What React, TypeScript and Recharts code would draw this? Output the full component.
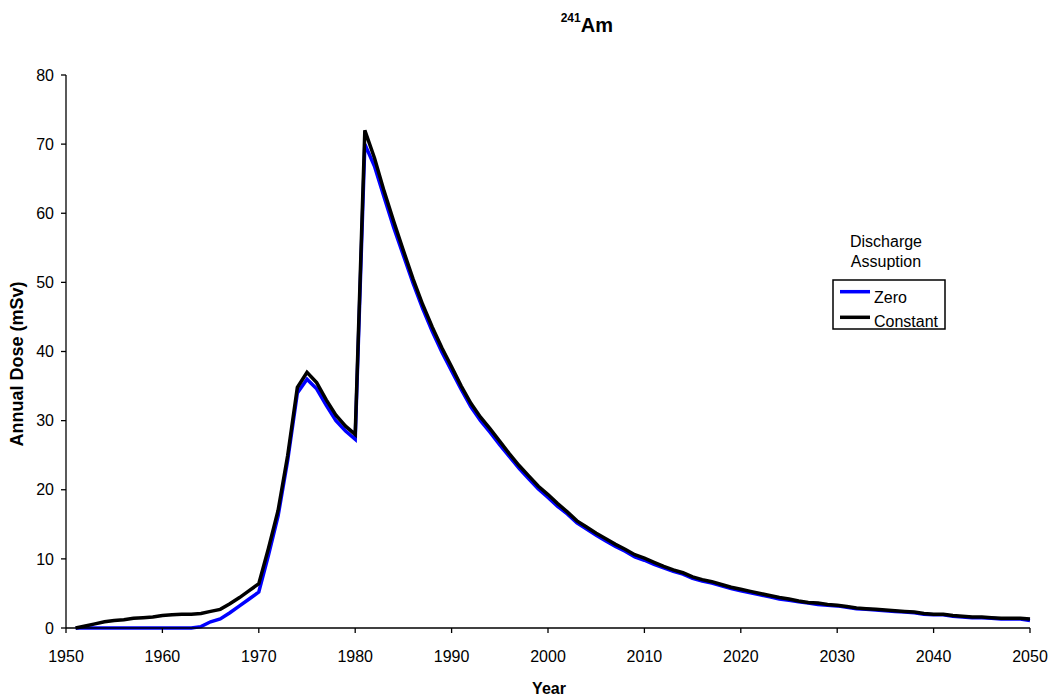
import { LineChart, Line, XAxis, YAxis, Legend, Customized } from 'recharts';

// Annual dose from 241Am, one value per year starting in 1951
const FIRST_YEAR = 1951;

// "Zero" discharge assumption
const zeroDose = [
  0, 0, 0, 0, 0, 0, 0, 0, 0, 0,
  0, 0, 0, 0.2, 0.9, 1.3, 2.2, 3.2, 4.2, 5.2,
  10.5, 16.2, 24.3, 34.0, 36.0, 34.6, 32.2, 30.0, 28.5, 27.3,
  70.0, 66.8, 62.3, 57.9, 53.9, 49.9, 46.2, 42.9, 39.9, 37.2,
  34.5, 32.0, 30.0, 28.3, 26.5, 24.8, 23.1, 21.6, 20.1, 18.9,
  17.6, 16.5, 15.2, 14.3, 13.4, 12.6, 11.8, 11.1, 10.3, 9.8,
  9.2, 8.7, 8.2, 7.8, 7.2, 6.8, 6.5, 6.1, 5.7, 5.4,
  5.1, 4.8, 4.5, 4.2, 4.0, 3.8, 3.6, 3.4, 3.3, 3.2,
  3.0, 2.8, 2.7, 2.6, 2.5, 2.4, 2.3, 2.2, 2.0, 1.9,
  1.9, 1.7, 1.6, 1.5, 1.5, 1.4, 1.3, 1.3, 1.3, 1.1,
];

// "Constant" discharge assumption
const constantDose = [
  0, 0.3, 0.6, 0.9, 1.1, 1.2, 1.4, 1.5, 1.6, 1.8,
  1.9, 2.0, 2.0, 2.1, 2.4, 2.7, 3.5, 4.4, 5.4, 6.4,
  11.5, 17.0, 25.0, 34.8, 37.0, 35.5, 33.0, 30.8, 29.2, 28.0,
  72.0, 68.0, 63.2, 58.8, 54.6, 50.5, 46.8, 43.5, 40.5, 37.8,
  35.0, 32.5, 30.5, 28.8, 27.0, 25.2, 23.5, 22.0, 20.5, 19.3,
  18.0, 16.8, 15.5, 14.6, 13.7, 12.9, 12.1, 11.4, 10.6, 10.1,
  9.5, 8.9, 8.4, 8.0, 7.4, 7.0, 6.7, 6.3, 5.9, 5.6,
  5.3, 5.0, 4.7, 4.4, 4.2, 3.9, 3.7, 3.6, 3.4, 3.3,
  3.1, 2.9, 2.8, 2.7, 2.6, 2.5, 2.4, 2.3, 2.1, 2.0,
  2.0, 1.8, 1.7, 1.6, 1.6, 1.5, 1.4, 1.4, 1.4, 1.3,
];

const xTicks = [1950, 1960, 1970, 1980, 1990, 2000, 2010, 2020, 2030, 2040, 2050];
const yTicks = [0, 10, 20, 30, 40, 50, 60, 70, 80];
const legendOrder = ['Zero', 'Constant'];

const FONT = '"Liberation Sans", Arial, sans-serif';

const data = zeroDose.map((zero, i) => ({
  year: FIRST_YEAR + i,
  zero,
  constant: constantDose[i],
}));

function Titles() {
  return (
    <g fontFamily={FONT} fill="#000">
      <text x={560.7} y={31.7} fontWeight="bold">
        <tspan fontSize={12} dy={-10}>241</tspan>
        <tspan fontSize={20} dy={10}>Am</tspan>
      </text>
      <text x={549} y={694} fontSize={16} fontWeight="bold" textAnchor="middle">
        Year
      </text>
      <text
        x={0}
        y={0}
        fontSize={18}
        fontWeight="bold"
        textAnchor="middle"
        transform="translate(23,364) rotate(-90)"
      >
        Annual Dose (mSv)
      </text>
    </g>
  );
}

function DischargeLegend({ payload }: any) {
  const items = [...(payload || [])].sort(
    (a: any, b: any) => legendOrder.indexOf(a.value) - legendOrder.indexOf(b.value)
  );
  return (
    <svg width={170} height={112} style={{ fontFamily: FONT, overflow: 'visible' }}>
      <text x={78} y={17} fontSize={16} textAnchor="middle">Discharge</text>
      <text x={78} y={37} fontSize={16} textAnchor="middle">Assuption</text>
      <rect x={25} y={50} width={112} height={49} fill="none" stroke="#000" strokeWidth={1.5} />
      {items.map((item: any, i: number) => (
        <g key={item.value}>
          <line
            x1={32}
            x2={62}
            y1={61.7 + i * 25.6}
            y2={61.7 + i * 25.6}
            stroke={item.color}
            strokeWidth={3.5}
          />
          <text x={66} y={73.3 + i * 23.4} fontSize={16}>{item.value}</text>
        </g>
      ))}
    </svg>
  );
}

export default function App() {
  return (
    <div style={{ position: 'absolute', left: 0, top: 0 }}>
      <LineChart
        width={1052}
        height={697}
        data={data}
        margin={{ top: 75, right: 22, left: 0, bottom: 29 }}
      >
        <XAxis
          dataKey="year"
          type="number"
          domain={[1950, 2050]}
          ticks={xTicks}
          interval={0}
          height={40}
          tickSize={5}
          tickMargin={18}
          stroke="#000"
          strokeWidth={1.3}
          tick={{ fill: '#000', fontSize: 16, fontFamily: FONT }}
        />
        <YAxis
          type="number"
          domain={[0, 80]}
          ticks={yTicks}
          interval={0}
          width={66}
          tickSize={5}
          tickMargin={7}
          stroke="#000"
          strokeWidth={1.3}
          tick={{ fill: '#000', fontSize: 16, fontFamily: FONT }}
        />
        <Legend
          layout="vertical"
          align="center"
          verticalAlign="middle"
          wrapperStyle={{ left: 808, top: 230, width: 170, height: 112 }}
          content={<DischargeLegend />}
        />
        <Line
          type="linear"
          dataKey="zero"
          name="Zero"
          stroke="#0000ff"
          strokeWidth={3.5}
          dot={false}
          isAnimationActive={false}
        />
        <Line
          type="linear"
          dataKey="constant"
          name="Constant"
          stroke="#000000"
          strokeWidth={3.5}
          dot={false}
          isAnimationActive={false}
        />
        <Customized component={Titles} />
      </LineChart>
    </div>
  );
}
